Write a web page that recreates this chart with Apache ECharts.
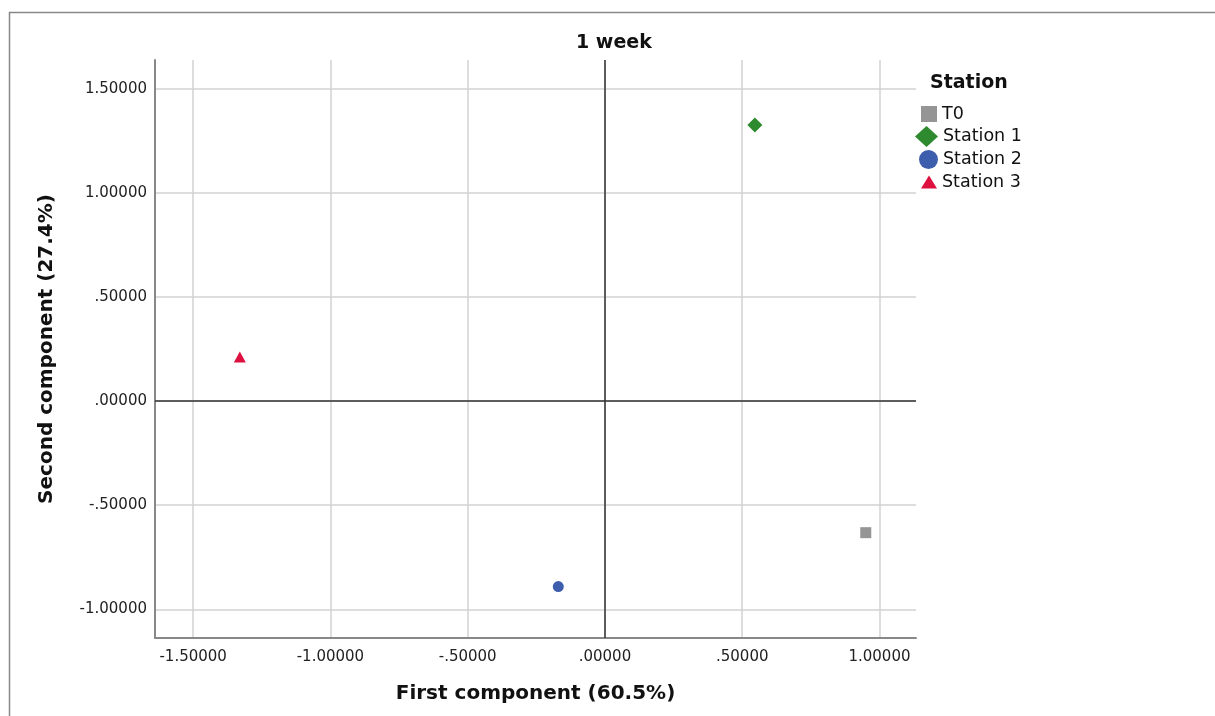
<!DOCTYPE html>
<html>
<head>
<meta charset="utf-8">
<script src="https://cdn.jsdelivr.net/npm/echarts@6/dist/echarts.min.js"></script>
<style>html,body{margin:0;padding:0;background:#fff}#c{width:1215px;height:716px}</style>
</head>
<body>
<div id="c"></div>
<script>
const seriesNames = ['T0', 'Station 1', 'Station 2', 'Station 3'];
const t0Point = [0.950, -0.632];
const station1Point = [0.546, 1.327];
const station2Point = [-0.170, -0.891];
const station3Point = [-1.330, 0.212];
const xRange = [-1.639, 1.133];
const yRange = [-1.138, 1.639];

const FONT = 'DejaVu Sans';
function fmt(v) {
  let s = Math.abs(v) < 1e-9 ? '0.00000' : v.toFixed(5);
  s = s.replace(/^0\./, '.').replace(/^-0\./, '-.');
  return s;
}

const styles = [
  { symbol: 'rect', size: 11, color: '#959595', legend: { left: 921, top: 105, w: 16, h: 16 } },
  { symbol: 'diamond', size: 15, color: '#2e8a2e', legend: { left: 915, top: 126, w: 23, h: 21 } },
  { symbol: 'circle', size: 11, color: '#3d5dad', legend: { left: 919, top: 150, w: 19, h: 19 } },
  { symbol: 'triangle', size: [12, 11], color: '#dd1040', legend: { left: 921, top: 173, w: 16, h: 13 } }
];
const points = [t0Point, station1Point, station2Point, station3Point];

const chart = echarts.init(document.getElementById('c'), null, { renderer: 'canvas' });

const series = seriesNames.map((name, i) => ({
  name: name,
  type: 'scatter',
  symbol: styles[i].symbol,
  symbolSize: styles[i].size,
  itemStyle: { color: styles[i].color, opacity: 1 },
  data: [points[i]],
  z: 5
}));
series.push({
  name: 'zero',
  type: 'scatter',
  data: [],
  silent: true,
  markLine: {
    silent: true,
    symbol: ['none', 'none'],
    label: { show: false },
    lineStyle: { color: '#333', width: 1.5, type: 'solid' },
    data: [{ xAxis: 0 }, { yAxis: 0 }]
  },
  z: 3
});

const legends = seriesNames.map((name, i) => ({
  data: [{ name: name, icon: styles[i].symbol }],
  orient: 'vertical',
  left: styles[i].legend.left,
  top: styles[i].legend.top,
  itemWidth: styles[i].legend.w,
  itemHeight: styles[i].legend.h,
  padding: 0,
  selectedMode: false,
  textStyle: { fontFamily: FONT, fontSize: 17.5, color: '#111' }
}));

chart.setOption({
  animation: false,
  title: [
    { text: '1 week', left: 576, top: 34, padding: 0,
      textStyle: { fontFamily: FONT, fontSize: 19, fontWeight: 'bold', color: '#111' } },
    { text: 'Station', left: 930, top: 74, padding: 0,
      textStyle: { fontFamily: FONT, fontSize: 19, fontWeight: 'bold', color: '#111' } }
  ],
  legend: legends,
  grid: { left: 155, right: 299, top: 60, bottom: 78, containLabel: false },
  xAxis: {
    type: 'value',
    min: xRange[0], max: xRange[1],
    splitNumber: 5,
    name: 'First component (60.5%)',
    nameLocation: 'middle',
    nameGap: 46,
    nameTextStyle: { fontFamily: FONT, fontSize: 20, fontWeight: 'bold', color: '#111' },
    axisLine: { show: true, onZero: false, lineStyle: { color: '#888', width: 2 } },
    axisTick: { show: false },
    axisLabel: { fontFamily: FONT, fontSize: 15, color: '#222', margin: 12, showMinLabel: false, showMaxLabel: false, formatter: fmt },
    splitLine: { show: true, showMinLine: false, showMaxLine: false, lineStyle: { color: '#d2d2d2', width: 1.5 } }
  },
  yAxis: {
    type: 'value',
    min: yRange[0], max: yRange[1],
    splitNumber: 5,
    name: 'Second component (27.4%)',
    nameLocation: 'middle',
    nameGap: 98,
    nameTextStyle: { fontFamily: FONT, fontSize: 20, fontWeight: 'bold', color: '#111' },
    axisLine: { show: true, onZero: false, lineStyle: { color: '#888', width: 2 } },
    axisTick: { show: false },
    axisLabel: { fontFamily: FONT, fontSize: 15, color: '#222', margin: 8, showMinLabel: false, showMaxLabel: false, formatter: fmt },
    splitLine: { show: true, showMinLine: false, showMaxLine: false, lineStyle: { color: '#d2d2d2', width: 1.5 } }
  },
  graphic: [
    { type: 'line', shape: { x1: 9, y1: 12.5, x2: 1215, y2: 12.5 }, style: { stroke: '#888', lineWidth: 1.5 }, silent: true },
    { type: 'line', shape: { x1: 9.5, y1: 12, x2: 9.5, y2: 716 }, style: { stroke: '#888', lineWidth: 1.5 }, silent: true }
  ],
  series: series
});
</script>
</body>
</html>
